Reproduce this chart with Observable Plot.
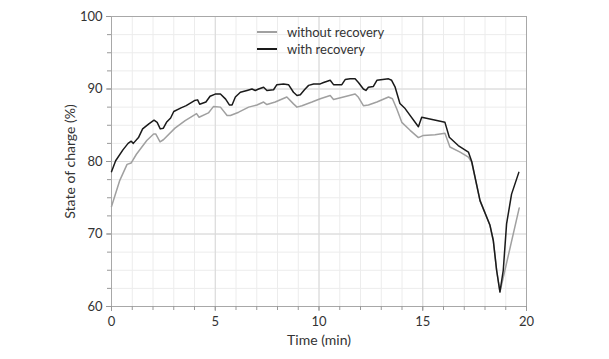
<!DOCTYPE html>
<html><head><meta charset="utf-8">
<script src="https://cdn.jsdelivr.net/npm/d3@7"></script>
<script src="https://cdn.jsdelivr.net/npm/@observablehq/plot@0.6"></script>
<style>
body{margin:0;background:#fff;}
#wrap{position:relative;width:609px;height:359px;}
.legend{position:absolute;left:257px;top:24px;font-family:Lato,sans-serif;font-size:13px;color:#333;}
.row{display:flex;align-items:center;height:16.6px;}
.sw{width:20px;height:0;border-top:2px solid;margin-right:10px;}
g[aria-label="x-axis label"] text, g[aria-label="y-axis label"] text{font-size:14px;}
</style></head><body><div id="wrap"></div>
<script>
const seriesNames = ["without recovery", "with recovery"];
const seriesColors = ["#a0a0a0", "#1a1a1a"];
const xTicks = [0, 5, 10, 15, 20];
const yTicks = [60, 70, 80, 90, 100];
const xMinor = d3.range(0, 21, 1);
const yMinor = d3.range(60, 100.1, 2.5);

const timeWith = [0,0.2,0.55,0.8,0.95,1.05,1.3,1.5,1.8,2.05,2.2,2.35,2.5,2.65,2.85,3.0,3.35,3.6,4.0,4.15,4.25,4.55,4.75,5.0,5.25,5.5,5.68,5.81,5.97,6.21,6.53,6.77,6.93,7.09,7.33,7.49,7.81,7.97,8.29,8.53,8.77,8.94,9.1,9.3,9.5,9.74,10.06,10.22,10.54,10.7,11.1,11.26,11.5,11.74,11.9,12.14,12.26,12.38,12.62,12.79,13.35,13.5,13.67,13.9,14.15,14.79,14.95,15.51,16.07,16.28,16.71,17.2,17.36,17.76,18.24,18.4,18.56,18.72,18.88,19.04,19.28,19.63];
const socWith = [78.6,80.1,81.6,82.5,82.8,82.5,83.3,84.5,85.2,85.7,85.4,84.5,84.6,85.4,86.0,86.9,87.4,87.7,88.4,88.5,87.9,88.2,89.0,89.3,89.3,88.6,87.8,87.8,88.9,89.55,89.8,90.0,89.8,90.0,90.25,89.8,89.9,90.6,90.7,90.6,89.55,89.1,89.2,89.9,90.5,90.7,90.7,90.9,91.2,90.6,90.6,91.3,91.4,91.4,90.9,90.0,89.8,90.25,90.35,91.2,91.4,91.2,90.25,88.0,87.3,84.8,86.1,85.75,85.4,83.35,82.2,81.3,80.0,74.6,71.2,69.1,65.0,62.0,65.0,71.4,75.5,78.5];

const timeWithout = [0,0.4,0.75,0.95,1.2,1.7,2.03,2.13,2.34,2.5,3.06,3.55,4.1,4.22,4.67,4.92,5.25,5.57,5.73,6.13,6.61,7.01,7.33,7.49,7.89,8.45,8.77,8.94,9.18,9.66,10.06,10.54,10.7,11.18,11.74,11.9,12.14,12.38,12.79,13.35,13.54,13.75,13.99,14.39,14.79,15.03,15.59,16.07,16.31,16.8,17.2,17.36,17.76,18.24,18.4,18.56,18.72,19.65];
const socWithout = [73.8,77.4,79.6,79.8,81.0,82.9,83.8,83.8,82.7,83.0,84.6,85.65,86.6,86.1,86.7,87.6,87.5,86.35,86.35,86.8,87.5,87.8,88.2,87.85,88.2,88.9,87.95,87.5,87.7,88.2,88.65,89.1,88.55,88.9,89.3,88.85,87.7,87.8,88.2,88.9,88.65,87.25,85.4,84.3,83.3,83.6,83.7,83.9,82.0,81.3,80.6,79.9,74.6,71.2,69.1,65.0,62.0,73.6];

const withRec = timeWith.map((t, i) => ({t, v: socWith[i]}));
const withoutRec = timeWithout.map((t, i) => ({t, v: socWithout[i]}));

const plot = Plot.plot({
  width: 609, height: 359,
  marginLeft: 111, marginRight: 83, marginTop: 16, marginBottom: 53,
  style: {fontFamily: "Lato, sans-serif", fontSize: "13px", color: "#333", background: "#fff"},
  x: {domain: [0, 20]},
  y: {domain: [60, 100]},
  marks: [
    Plot.ruleX(xMinor, {stroke: "#ececec"}),
    Plot.ruleY(yMinor, {stroke: "#ececec"}),
    Plot.ruleX(xTicks, {stroke: "#d8d8d8"}),
    Plot.ruleY(yTicks, {stroke: "#d8d8d8"}),
    Plot.frame({stroke: "#a8a8a8"}),
    Plot.axisX(xMinor, {tickSize: 4, tickFormat: () => "", stroke: "#999", label: null}),
    Plot.axisX(xTicks, {tickSize: 5, tickPadding: 5, label: "Time (min)", labelAnchor: "center", labelArrow: "none", labelOffset: 38, stroke: "#999"}),
    Plot.axisY(yMinor, {tickSize: 4, tickFormat: () => "", stroke: "#999", label: null}),
    Plot.axisY(yTicks, {tickSize: 5, tickPadding: 4, label: "State of charge (%)", labelAnchor: "center", labelArrow: "none", labelOffset: 46, stroke: "#999"}),
    Plot.line(withoutRec, {x: "t", y: "v", stroke: seriesColors[0], strokeWidth: 1.5}),
    Plot.line(withRec, {x: "t", y: "v", stroke: seriesColors[1], strokeWidth: 1.5})
  ]
});
const wrap = document.getElementById("wrap");
wrap.appendChild(plot);
const legend = document.createElement("div");
legend.className = "legend";
seriesNames.forEach((name, i) => {
  const row = document.createElement("div");
  row.className = "row";
  const sw = document.createElement("span");
  sw.className = "sw";
  sw.style.borderColor = seriesColors[i];
  const tx = document.createElement("span");
  tx.textContent = name;
  row.appendChild(sw); row.appendChild(tx);
  legend.appendChild(row);
});
wrap.appendChild(legend);
</script></body></html>
